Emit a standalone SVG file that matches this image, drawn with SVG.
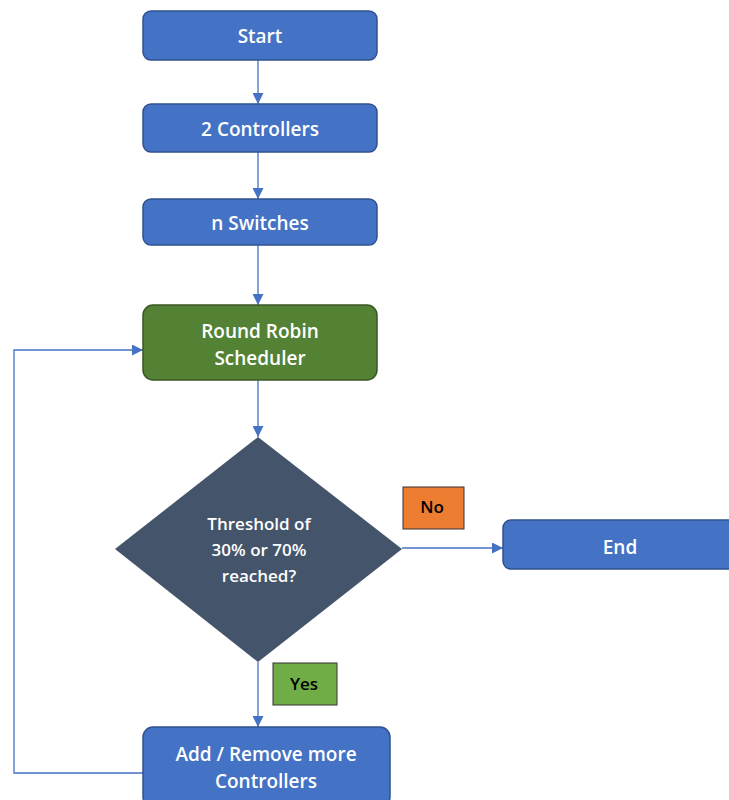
<svg xmlns="http://www.w3.org/2000/svg" width="729" height="800" viewBox="0 0 729 800">
<style>
.box{fill:#4472C4;stroke:#2F528F;stroke-width:1.5}
.green{fill:#548235;stroke:#385723;stroke-width:1.5}
.t{font-family:"Open Sans","Liberation Sans",sans-serif;font-size:19px;font-weight:600;fill:#fff;text-anchor:middle}
.d{font-size:17px}
.lbl{font-family:"Open Sans","Liberation Sans",sans-serif;font-size:17px;font-weight:600;fill:#000;text-anchor:middle}
.c{fill:none;stroke:#4472C4;stroke-width:1.3}
</style>
<defs>
<marker id="ah" viewBox="0 0 10 10" refX="10" refY="5" markerWidth="11" markerHeight="11" markerUnits="userSpaceOnUse" orient="auto">
<path d="M0,0 L10,5 L0,10 z" fill="#4472C4"/>
</marker>
</defs>
<rect width="729" height="800" fill="#fff"/>
<g id="connectors">
<line class="c" x1="258" y1="60" x2="258" y2="104" marker-end="url(#ah)"/>
<line class="c" x1="258" y1="152" x2="258" y2="199" marker-end="url(#ah)"/>
<line class="c" x1="258" y1="245" x2="258" y2="305" marker-end="url(#ah)"/>
<line class="c" x1="258" y1="380" x2="258" y2="437" marker-end="url(#ah)"/>
<line class="c" x1="402" y1="548" x2="503" y2="548" marker-end="url(#ah)"/>
<line class="c" x1="258" y1="662" x2="258" y2="727" marker-end="url(#ah)"/>
<polyline class="c" points="143,773 14,773 14,350 143,350" marker-end="url(#ah)"/>
</g>
<g id="start">
<rect class="box" x="143" y="11" width="234" height="49" rx="8"/>
<text class="t" x="260" y="43">Start</text>
</g>
<g id="controllers">
<rect class="box" x="143" y="104" width="234" height="48" rx="8"/>
<text class="t" x="260" y="136">2 Controllers</text>
</g>
<g id="switches">
<rect class="box" x="143" y="199" width="234" height="46" rx="8"/>
<text class="t" x="260" y="230">n Switches</text>
</g>
<g id="scheduler">
<rect class="green" x="143" y="305" width="234" height="75" rx="10"/>
<text class="t" x="260" y="338">Round Robin</text>
<text class="t" x="260" y="365">Scheduler</text>
</g>
<g id="decision">
<polygon points="258,437 402,549 258,662 115,549" fill="#44546A"/>
<text class="t d" x="259" y="530">Threshold of</text>
<text class="t d" x="259" y="556">30% or 70%</text>
<text class="t d" x="259" y="582">reached?</text>
</g>
<g id="no">
<rect x="403" y="487" width="61" height="42" fill="#ED7D31" stroke="#333" stroke-width="1"/>
<text class="lbl" x="432" y="513">No</text>
</g>
<g id="end">
<rect class="box" x="503" y="520" width="240" height="49" rx="8"/>
<text class="t" x="620" y="554">End</text>
</g>
<g id="yes">
<rect x="273" y="663" width="64" height="42" fill="#70AD47" stroke="#333" stroke-width="1"/>
<text class="lbl" x="304" y="690">Yes</text>
</g>
<g id="addremove">
<rect class="box" x="143" y="727" width="247" height="80" rx="10"/>
<text class="t" x="266" y="761">Add / Remove more</text>
<text class="t" x="266" y="788">Controllers</text>
</g>
</svg>
